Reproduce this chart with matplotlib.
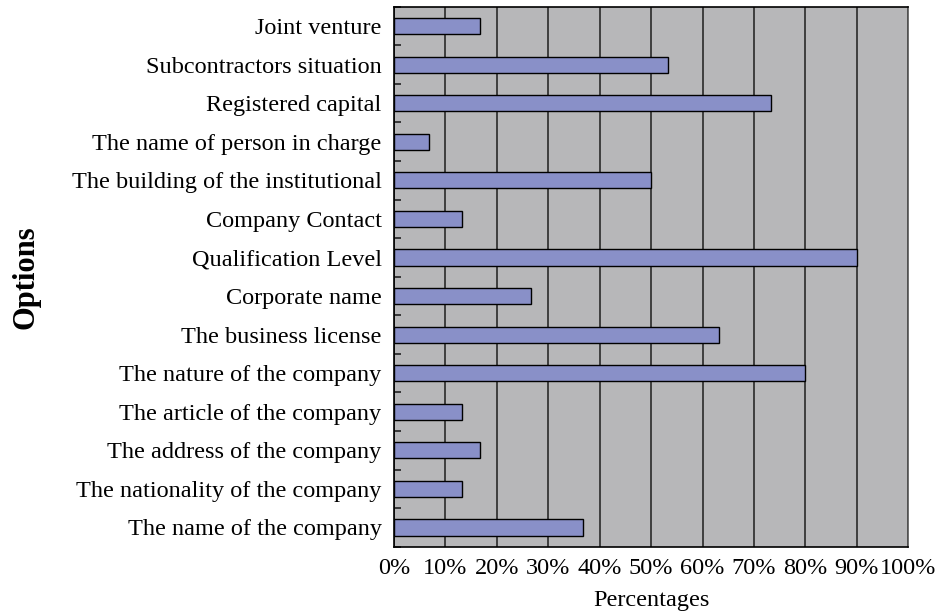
import numpy as np
import matplotlib.pyplot as plt
from matplotlib.ticker import FixedLocator

plt.rcParams["font.family"] = ["Liberation Serif", "DejaVu Serif"]

# categories from bottom to top
options = [
    "The name of the company",
    "The nationality of the company",
    "The address of the company",
    "The article of the company",
    "The nature of the company",
    "The business license",
    "Corporate name",
    "Qualification Level",
    "Company Contact",
    "The building of the institutional",
    "The name of person in charge",
    "Registered capital",
    "Subcontractors situation",
    "Joint venture",
]
percentages = [36.7, 13.3, 16.7, 13.3, 80.0, 63.3, 26.7, 90.0, 13.3, 50.0, 6.7, 73.3, 53.3, 16.7]
xticks = list(range(0, 101, 10))
xtick_labels = [f"{t}%" for t in xticks]

fig = plt.figure(figsize=(9.45, 6.15), dpi=100)
ax = fig.add_axes([0.417, 0.111, 0.544, 0.878])

ypos = np.arange(len(options))
ax.set_facecolor("#b7b7b9")
ax.barh(ypos, percentages, height=0.42, color="#8990c8", edgecolor="black",
        linewidth=1.0, zorder=3)

ax.set_xlim(0, 100)
ax.set_ylim(-0.5, len(options) - 0.5)
ax.set_xticks(xticks)
ax.set_xticklabels(xtick_labels, fontsize=17.5)
ax.tick_params(axis="x", length=0, pad=8)
ax.xaxis.grid(True, color="#2a2a2a", linewidth=1.2, zorder=1)

ax.set_yticks(ypos)
ax.set_yticklabels(options, fontsize=17.5)
ax.tick_params(axis="y", which="major", length=0, pad=9)
ax.yaxis.set_minor_locator(FixedLocator(np.arange(-0.5, len(options), 1.0)))
ax.tick_params(axis="y", which="minor", direction="in", length=5, width=1.2,
               color="#222222")

for side in ["left", "bottom", "top"]:
    ax.spines[side].set_color("black")
    ax.spines[side].set_linewidth(1.2)
ax.spines["right"].set_color("#555555")
ax.spines["right"].set_linewidth(1.2)

ax.set_xlabel("Percentages", fontsize=17.5, labelpad=8)
fig.text(0.027, 0.55, "Options", rotation=90, fontsize=22, fontweight="bold",
         ha="center", va="center")

fig.savefig("out.png", dpi=100, facecolor="white")
